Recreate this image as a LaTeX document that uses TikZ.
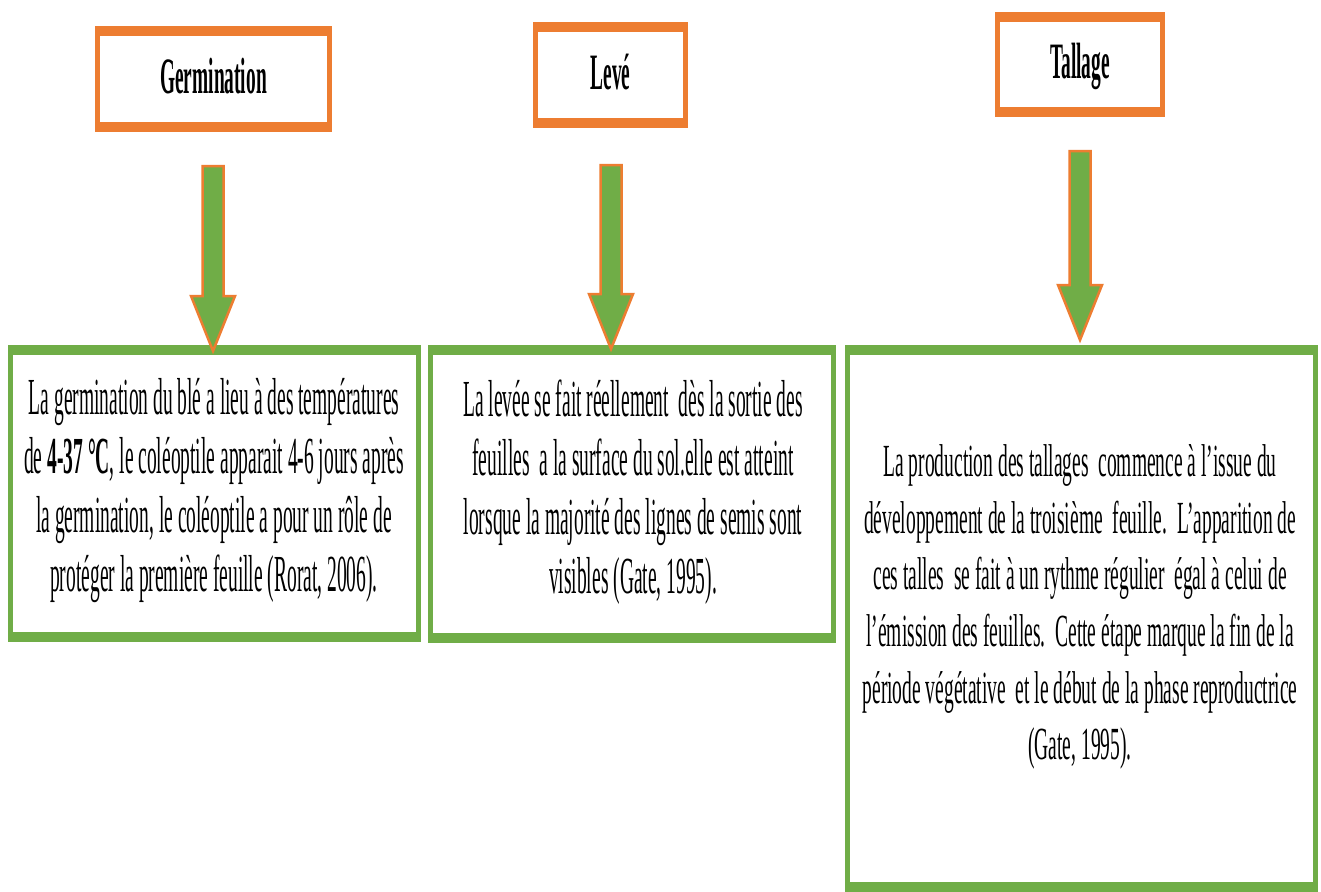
\documentclass[tikz,border=0pt]{standalone}
\usepackage{fontspec}
\usetikzlibrary{calc}
\definecolor{borange}{HTML}{ED7D31}
\definecolor{bgreen}{HTML}{70AD47}
\newfontfamily\condA[FakeStretch=0.375]{Liberation Serif}
\newfontfamily\condT[FakeStretch=0.38]{Liberation Serif}
\newfontfamily\condB[FakeStretch=0.424]{Liberation Serif}
\begin{document}
\begin{tikzpicture}[x=1pt,y=-1pt,
  titlebox/.style={rectangle, fill=borange, inner sep=0pt,
    path picture={\fill[white] ($(path picture bounding box.south west)+(5,-10)$) rectangle ($(path picture bounding box.north east)+(-5,10)$);},
    font=\condT\bfseries\fontsize{51}{60}\selectfont, text height=34pt, text depth=6pt},
  bodybox/.style={rectangle, fill=bgreen, inner sep=0pt,
    path picture={\fill[white] ($(path picture bounding box.south west)+(5,-10)$) rectangle ($(path picture bounding box.north east)+(-5,10)$);}},
  bodyA/.style={align=center, inner sep=0pt, font=\condA\fontsize{52}{59}\selectfont},
  bodyB/.style={align=center, inner sep=0pt, font=\condB\fontsize{46}{56.6}\selectfont},
  blockarrow/.style={fill=bgreen, draw=borange, line width=2.5pt,
    to path={-- ($(\tikztostart)+(-10.5,0)$) -- ($(\tikztotarget)+(-10.5,-55)$) -- ($(\tikztotarget)+(-22,-55)$) -- (\tikztotarget) -- ($(\tikztotarget)+(22,-55)$) -- ($(\tikztotarget)+(10.5,-55)$) -- ($(\tikztostart)+(10.5,0)$) -- cycle}}
]
\fill[white] (0,0) rectangle (1321,891);
\useasboundingbox (0,0) rectangle (1321,891);

% title boxes
\node[titlebox, minimum width=237pt, minimum height=106pt] (t1) at (213.5,79) {Germination};
\node[titlebox, minimum width=155pt, minimum height=106pt] (t2) at (610.5,75) {Levé};
\node[titlebox, minimum width=170pt, minimum height=105pt] (t3) at (1080,64.5) {Tallage};

% body boxes
\node[bodybox, minimum width=413pt, minimum height=297pt] (b1) at (214.5,493.5) {};
\node[bodybox, minimum width=408pt, minimum height=298pt] (b2) at (632,494) {};
\node[bodybox, minimum width=473pt, minimum height=547pt] (b3) at (1081.5,618.5) {};

% body texts
\node[bodyA] (x1) at (214,491) {La germination du blé a lieu à des températures\\
de \textbf{4-37 °C}, le coléoptile apparait 4-6 jours après\\
la germination, le coléoptile a pour un rôle de\\
protéger la première feuille (Rorat, 2006).};
\node[bodyA] (x2) at (633,492) {La levée se fait réellement\ \ dès la sortie des\\
feuilles\ \ a la surface du sol.elle est atteint\\
lorsque la majorité des lignes de semis sont\\
visibles (Gate, 1995).};
\node[bodyB] (x3) at (1080,607) {La production des tallages\ \ commence à l’issue du\\
développement de la troisième\ \ feuille.\ \ L’apparition de\\
ces talles\ \ se fait à un rythme régulier\ \ égal à celui de\\
l’émission des feuilles.\ \ Cette étape marque la fin de la\\
période végétative\ \ et le début de la phase reproductrice\\
(Gate, 1995).};

% arrows
\coordinate (a1s) at (213,166);
\coordinate (a1e) at (213,351);
\coordinate (a2s) at (611,165);
\coordinate (a2e) at (611,349);
\coordinate (a3s) at (1080,151);
\coordinate (a3e) at (1080,340);
\draw[blockarrow] (a1s) to (a1e);
\draw[blockarrow] (a2s) to (a2e);
\draw[blockarrow] (a3s) to (a3e);
\end{tikzpicture}
\end{document}
